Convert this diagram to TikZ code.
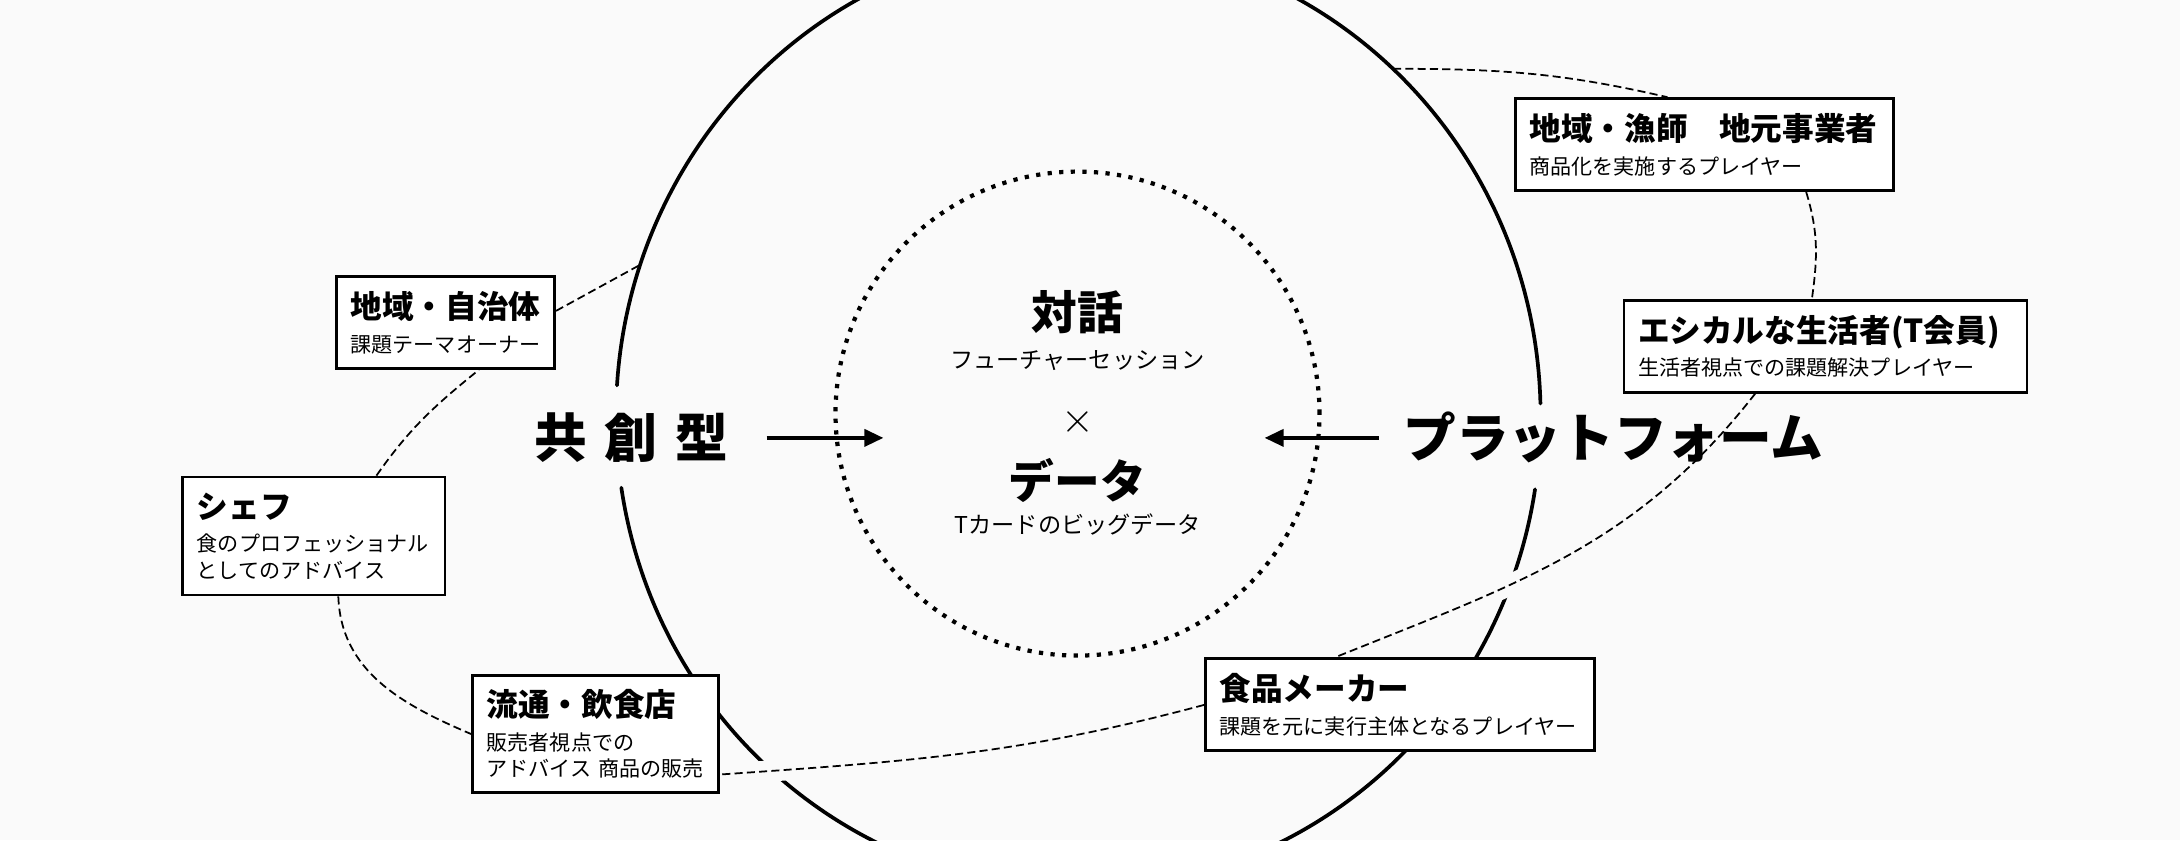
\documentclass[tikz,border=0pt]{standalone}
\usepackage{fontspec}
\newfontfamily\jpfont{Noto Sans CJK JP}
\usetikzlibrary{arrows.meta,positioning,calc,backgrounds}
\definecolor{bg}{gray}{0.98}
\newcommand{\boxtitle}[1]{{\bfseries\fontsize{9pt}{9pt}\selectfont #1}}

\begin{document}
\begin{tikzpicture}[
    actor/.style={draw, line width=0.8pt, fill=white, align=left,
                  text width=#1, inner xsep=1.4mm, inner ysep=1mm,
                  minimum height=0.92cm,
                  font=\jpfont\fontsize{6pt}{7.5pt}\selectfont},
    bighead/.style={font=\jpfont\bfseries\fontsize{15pt}{15pt}\selectfont, inner sep=0pt},
    head/.style={font=\jpfont\bfseries\fontsize{13pt}{13pt}\selectfont, inner sep=0pt},
    note/.style={font=\jpfont\fontsize{6.6pt}{7pt}\selectfont, inner sep=0pt},
    core/.style={circle, draw, minimum size=4.84cm, line width=1.2pt,
                 dash pattern=on 1.2pt off 2.1pt},
    ring/.style={line width=1.05pt, line cap=round},
    link/.style={line width=0.5pt, dash pattern=on 2.3pt off 1.2pt},
    halo/.style={preaction={draw=bg, line width=6pt, solid}},
    arrow/.style={-{Triangle[length=1.9mm, width=1.7mm]}, line width=1.05pt},
]
\useasboundingbox (0,0) rectangle (21.8,8.4);

% Centre: dialogue x data
\node[core] (core) at (10.775,4.264) {};
\node[head] (dialog)    at (10.775,5.28)  {対話};
\node[note] (dialogsub) at (10.775,4.796) {フューチャーセッション};
\node[inner sep=0pt, font=\fontsize{13pt}{13pt}\selectfont] (cross) at (10.775,4.182) {$\times$};
\node[head] (data)      at (10.775,3.60)  {データ};
\node[note] (datasub)   at (10.775,3.154) {Tカードのビッグデータ};

% Outer ring
\coordinate (hub) at (10.783,4.24);
\coordinate (rimNE) at ($(hub)+(47.1:4.623 and 4.74)$);
\coordinate (rimNW) at ($(hub)+(161.4:4.623 and 4.74)$);

% Two approaches
\node[bighead] (kyoso)    at (6.312,4.021)  {共\hspace{5pt}創\hspace{5pt}型};
\node[bighead] (platform) at (16.134,4.021) {プラットフォーム};
\draw[arrow] ([xshift=3.8mm]kyoso.east) -- ($(core.west |- kyoso.east)+(5mm,0)$);
\draw[arrow] ([xshift=-2.4mm]platform.west) -- ($(core.east |- platform.west)+(-5.7mm,0)$);

% Players
\node[actor=19.0mm] (local) at (4.456,5.175)
    {\boxtitle{地域・自治体}\\[2.1pt]課題テーマオーナー};
\node[actor=23.4mm, minimum height=1.18cm] (chef) at (3.139,3.04)
    {\boxtitle{シェフ}\\[2.1pt]食のプロフェッショナル\\としてのアドバイス};
\node[actor=21.8mm, minimum height=1.17cm] (shop) at (5.957,1.059)
    {\boxtitle{流通・飲食店}\\[2.1pt]販売者視点での\\アドバイス 商品の販売};
\node[actor=36.1mm] (maker) at (14.0,1.351)
    {\boxtitle{食品メーカー}\\[2.1pt]課題を元に実行主体となるプレイヤー};
\node[actor=37.5mm] (ethical) at (18.255,4.938)
    {\boxtitle{エシカルな生活者(T会員)}\\[2.1pt]生活者視点での課題解決プレイヤー};
\node[actor=35.0mm] (fisher) at (17.045,6.954)
    {\boxtitle{地域・漁師　地元事業者}\\[2.1pt]商品化を実施するプレイヤー};

% Ring and dashed links behind the boxes
\begin{scope}[on background layer]
  \clip (0,0) rectangle (21.8,8.4);
  \fill[bg] (0,0) rectangle (21.8,8.4);
  \foreach \a/\b in {1.5/176.3, 188.7/351.1}
    \draw[ring] ($(hub)+(\a:4.623 and 4.74)$)
      arc[start angle=\a, end angle=\b, x radius=4.623, y radius=4.74];
  \draw[link] (rimNE) to[out=0, in=167] (fisher.128);
  \draw[link] (fisher.-25) to[out=-73, in=82] (ethical.106);
  \draw[link, halo] (ethical.-146) to[out=-128, in=22] (maker.144);
  \draw[link, halo] (maker.west) to[out=195, in=4] (shop.-18);
  \draw[link] (chef.-68) to[out=-88, in=157] (shop.west);
  \draw[link] (chef.44) to[out=55, in=-141] (local.-55);
  \draw[link] (local.6) -- (rimNW);
\end{scope}
\end{tikzpicture}
\end{document}
